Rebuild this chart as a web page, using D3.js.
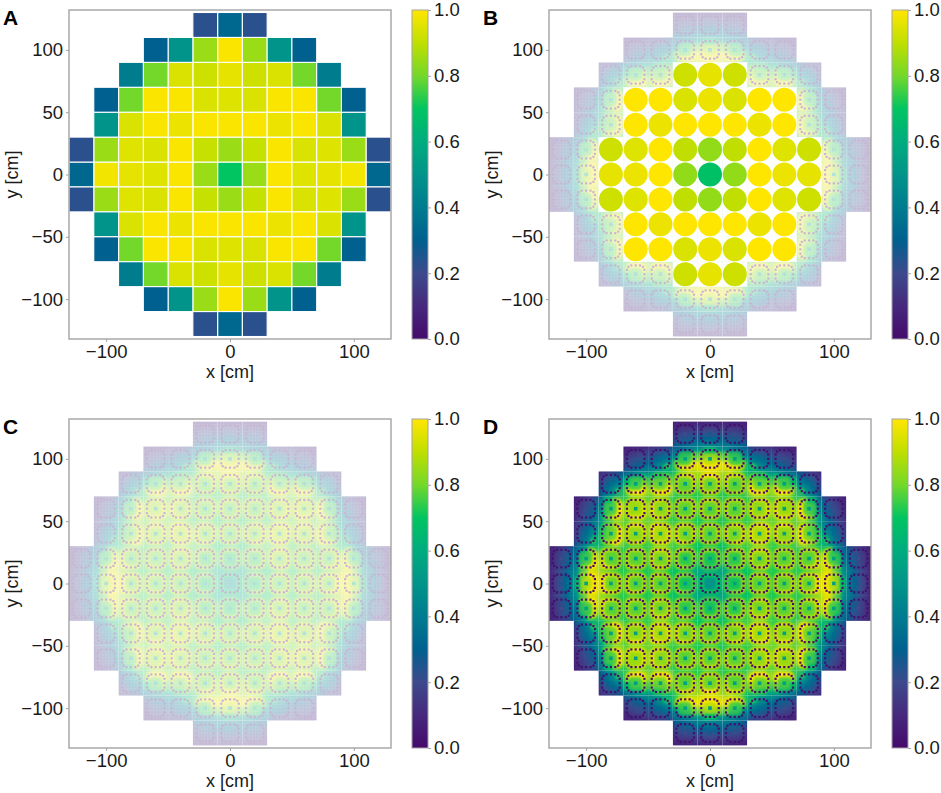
<!DOCTYPE html>
<html>
<head>
<meta charset="utf-8">
<script src="https://cdn.jsdelivr.net/npm/d3@7"></script>
<style>
    html, body { margin: 0; padding: 0; background: #fff; }
    svg { display: block; font-family: "Liberation Sans", Arial, sans-serif; }
</style>
</head>
<body>
<div id="vis"></div>
<script>
const panelLetters = ["A", "B", "C", "D"];
const xTicks = [-100, 0, 100];
const yTicks = [-100, -50, 0, 50, 100];
const colorbarTicks = [0, 0.2, 0.4, 0.6, 0.8, 1];

// viridis as it came out in the printed figure
const colorDomain = [0, 0.1, 0.2, 0.3, 0.4, 0.5, 0.6, 0.7, 0.8, 0.9, 1];
const colorRange = ["#440a6c", "#46287c", "#3c4a8c", "#00608f", "#007c8f", "#00948a",
    "#00ac7e", "#00c560", "#74d82a", "#c0df00", "#ffe600"];

// one quarter of the core, row 0 is y = 0, column 0 is x = 0, pitch 20 cm
const assemblyValues = [
    [0.70, 0.85, 0.99, 0.95, 0.96, 0.98, 0.33],
    [0.85, 0.91, 0.99, 0.94, 0.95, 0.85, 0.23],
    [0.99, 0.99, 0.97, 0.99, 0.94, 0.50, null],
    [0.95, 0.94, 0.99, 0.99, 0.80, 0.30, null],
    [0.96, 0.92, 0.94, 0.80, 0.40, null, null],
    [0.99, 0.85, 0.50, 0.30, null, null, null],
    [0.33, 0.23, null, null, null, null, null]
];

const circleValues = [
    [0.68, 0.84, 1.00, 0.97, 0.96],
    [0.84, 0.90, 1.00, 0.95, 0.92],
    [1.00, 1.00, 0.97, 1.00],
    [0.97, 0.94, 1.00, 1.00],
    [0.96, 0.92]
];

// flux on a 5 cm grid, one eighth of the core: row j holds columns i = j, j + 1, ...
const fieldRows = [
    [.50, .54, .60, .64, .66, .68, .70, .72, .74, .72, .72, .72, .74, .74, .74, .74, .76, .84, .97, .93, .70, .52, .40, .30, .20, .12],
    [.54, .60, .64, .66, .68, .70, .72, .74, .72, .72, .72, .74, .74, .74, .74, .76, .84, .97, .92, .68, .50, .39, .29, .19, .11],
    [.62, .66, .68, .70, .72, .74, .76, .74, .72, .72, .74, .74, .72, .72, .76, .82, .93, .88, .64, .46, .37, .27, .18, .11],
    [.66, .68, .70, .72, .74, .76, .74, .72, .72, .74, .72, .70, .72, .74, .80, .88, .82, .58, .43, .34, .25, .17, .10],
    [.70, .72, .76, .78, .78, .76, .72, .72, .74, .72, .70, .72, .74, .76, .80, .74, .54, .38, .31, .23, .16, .10],
    [.72, .76, .78, .78, .76, .72, .72, .72, .72, .70, .70, .72, .74, .72, .66, .48, .35, .29, .21, .15, .09],
    [.78, .80, .80, .76, .74, .76, .76, .72, .86, .84, .72, .64, .58, .48, .36, .26],
    [.82, .82, .78, .76, .78, .78, .74, .86, .82, .68, .60, .52, .42, .32, .22],
    [.84, .80, .78, .80, .80, .76, .84, .78, .66, .58, .48, .38, .28, .19],
    [.82, .78, .80, .80, .76, .80, .74, .64, .54, .42, .32, .24, .16],
    [.80, .80, .80, .76, .88, .80, .66, .54, .38, .29, .21, .13],
    [.82, .80, .76, .88, .78, .64, .50, .34, .26, .19, .12],
    [.80, .74, .84, .74, .60, .46, .30, .23, .17, .11],
    [.72, .76, .66, .54, .40, .26, .20, .14, .09],
    [.58, .50, .40, .30],
    [.44, .34, .26],
    [.28, .20],
    [.16]
];

// pin row and column of the absorber tubes in a 17 x 17 assembly
const tubeRows = [2, 2, 2, 3, 3, 5, 5, 8, 8, 11, 11, 13, 13, 14, 14, 14];
const tubeCols = [5, 8, 11, 3, 13, 2, 14, 2, 14, 2, 14, 3, 13, 5, 8, 11];

const pitch = 20;
const pinsPerAssembly = 17;
const fieldCell = 5;

const width = 941, height = 793;
const panelWidth = 322, panelHeight = 329;
const panelLeft = [69, 549, 69, 549];
const panelTop = [10, 10, 419, 419];
const spineColor = "#a3a3a3";
const textColor = "#1a1a1a";

const color = d3.scaleLinear().domain(colorDomain).range(colorRange).clamp(true);

const svg = d3.select("#vis").append("svg")
    .attr("width", width)
    .attr("height", height);
const defs = svg.append("defs");

[["soft", 2.4], ["softDisc", 1.5], ["softHalo", 0.9]].forEach(([id, sd]) => {
    defs.append("filter").attr("id", id)
        .attr("filterUnits", "userSpaceOnUse")
        .attr("x", 0).attr("y", 0).attr("width", width).attr("height", height)
        .append("feGaussianBlur").attr("stdDeviation", sd);
});

const gradient = defs.append("linearGradient").attr("id", "cbar")
    .attr("x1", 0).attr("y1", 1).attr("x2", 0).attr("y2", 0);
colorDomain.forEach((d, i) => {
    gradient.append("stop").attr("offset", d).attr("stop-color", colorRange[i]);
});

// list of all assemblies in the core with their signed column and row
const assemblies = [];
assemblyValues.forEach((row, r) => {
    row.forEach((v, c) => {
        if (v === null) return;
        d3.range(c === 0 ? 1 : 2).forEach(a => {
            d3.range(r === 0 ? 1 : 2).forEach(b => {
                assemblies.push({ c: a ? -c : c, r: b ? -r : r, value: v });
            });
        });
    });
});

const circles = [];
circleValues.forEach((row, r) => {
    row.forEach((v, c) => {
        d3.range(c === 0 ? 1 : 2).forEach(a => {
            d3.range(r === 0 ? 1 : 2).forEach(b => {
                circles.push({ c: a ? -c : c, r: b ? -r : r, value: v });
            });
        });
    });
});

function fieldAt(xCm, yCm) {
    const i = Math.floor(Math.abs(xCm) / fieldCell);
    const j = Math.floor(Math.abs(yCm) / fieldCell);
    const a = Math.min(i, j), b = Math.max(i, j);
    return fieldRows[a] ? fieldRows[a][b - a] : undefined;
}

// mean of the four 5 cm cells that meet in the middle of an assembly
function assemblyMiddle(d) {
    const cx = d.c * pitch, cy = d.r * pitch, o = fieldCell / 2;
    return d3.mean([fieldAt(cx - o, cy - o), fieldAt(cx + o, cy - o),
        fieldAt(cx - o, cy + o), fieldAt(cx + o, cy + o)]);
}

// every 5 cm cell of the core
const fieldCells = [];
d3.range(-26, 26).forEach(i => {
    d3.range(-26, 26).forEach(j => {
        const cx = (i + 0.5) * fieldCell, cy = (j + 0.5) * fieldCell;
        const v = fieldAt(cx, cy);
        if (v !== undefined) fieldCells.push({ x: i * fieldCell, y: j * fieldCell, value: v });
    });
});

const tubes = [];
assemblies.forEach(d => {
    tubeRows.forEach((pr, k) => {
        const px = d.c * pitch + (tubeCols[k] - 8) * pitch / pinsPerAssembly;
        const py = d.r * pitch + (pr - 8) * pitch / pinsPerAssembly;
        tubes.push({ x: px, y: py, value: fieldAt(px, py) });
    });
});

function drawAxes(g, x, y, letter) {
    g.append("g")
        .attr("transform", `translate(0,${panelHeight})`)
        .call(d3.axisBottom(x).tickValues(xTicks).tickSize(3).tickPadding(3))
        .call(styleAxis);
    g.append("g")
        .call(d3.axisLeft(y).tickValues(yTicks).tickSize(3).tickPadding(3))
        .call(styleAxis);

    g.append("rect")
        .attr("width", panelWidth)
        .attr("height", panelHeight)
        .attr("fill", "none")
        .attr("stroke", spineColor)
        .attr("stroke-width", 1.4);

    g.append("text")
        .attr("x", panelWidth / 2)
        .attr("y", panelHeight + 39)
        .attr("text-anchor", "middle")
        .attr("font-size", 18)
        .attr("fill", textColor)
        .text("x [cm]");

    g.append("text")
        .attr("transform", `translate(-51,${panelHeight / 2}) rotate(-90)`)
        .attr("text-anchor", "middle")
        .attr("font-size", 18)
        .attr("fill", textColor)
        .text("y [cm]");

    g.append("text")
        .attr("x", -66)
        .attr("y", 15)
        .attr("font-size", 21)
        .attr("font-weight", "bold")
        .attr("fill", "#000")
        .text(letter);

    // colorbar
    const bar = g.append("g").attr("transform", `translate(${panelWidth + 21},0)`);
    const c = d3.scaleLinear().domain([0, 1]).range([panelHeight, 0]);
    bar.append("rect")
        .attr("width", 16)
        .attr("height", panelHeight)
        .attr("fill", "url(#cbar)")
        .attr("stroke", spineColor)
        .attr("stroke-width", 1);
    bar.append("g")
        .attr("transform", "translate(16,0)")
        .call(d3.axisRight(c).tickValues(colorbarTicks).tickFormat(d3.format(".1f")).tickSize(3).tickPadding(3))
        .call(styleAxis);
}

function styleAxis(sel) {
    sel.select(".domain").remove();
    sel.selectAll(".tick line").attr("stroke", spineColor).attr("stroke-width", 1);
    sel.selectAll(".tick text").attr("font-size", 18.5).attr("fill", textColor);
    sel.attr("font-family", null).attr("font-size", 18.5);
}

function cellRect(sel, x, y) {
    sel.attr("x", d => x((d.c - 0.5) * pitch))
        .attr("y", d => y((d.r + 0.5) * pitch))
        .attr("width", x(pitch) - x(0))
        .attr("height", y(0) - y(pitch));
}

// heat field with pins, used by B, C and D
function drawField(g, x, y, clipId, opacity, lattice) {
    const clip = defs.append("clipPath").attr("id", clipId);
    clip.selectAll("rect").data(assemblies).join("rect").call(cellRect, x, y);

    const field = g.append("g").attr("clip-path", `url(#${clipId})`);
    const inner = field.append("g").attr("opacity", opacity);
    inner.selectAll("rect.base").data(assemblies).join("rect")
        .attr("class", "base")
        .attr("fill", color(0.06))
        .call(cellRect, x, y);

    const sw = x(fieldCell) - x(0), sh = y(0) - y(fieldCell);
    inner.append("g").attr("filter", "url(#soft)")
        .selectAll("rect").data(fieldCells).join("rect")
        .attr("x", d => x(d.x))
        .attr("y", d => y(d.y + fieldCell))
        .attr("width", sw + 0.4)
        .attr("height", sh + 0.4)
        .attr("fill", d => color(d.value));

    // the moderated middle of each assembly runs hotter than the gaps between them
    const discSize = x(12) - x(0);
    const hotAssemblies = assemblies.filter(d => assemblyMiddle(d) > 0.6);
    inner.append("g").attr("filter", "url(#softDisc)").attr("opacity", 0.65)
        .selectAll("rect").data(hotAssemblies).join("rect")
        .attr("x", d => x(d.c * pitch) - discSize / 2)
        .attr("y", d => y(d.r * pitch) - discSize / 2)
        .attr("width", discSize)
        .attr("height", discSize)
        .attr("rx", discSize / 3)
        .attr("fill", d => color(assemblyMiddle(d) + 0.08));

    // hot water around the tubes
    const hot = tubes.filter(d => d.value > 0.5);
    inner.append("g").attr("filter", "url(#softHalo)")
        .selectAll("rect").data(hot).join("rect")
        .attr("x", d => x(d.x) - 2.5)
        .attr("y", d => y(d.y) - 2.5)
        .attr("width", 5)
        .attr("height", 5)
        .attr("fill", d => color(d.value + 0.16));

    // instrument tube in the middle of each assembly
    inner.selectAll("rect.centre").data(assemblies).join("rect")
        .attr("class", "centre")
        .attr("x", d => x(d.c * pitch) - 1.8)
        .attr("y", d => y(d.r * pitch) - 1.8)
        .attr("width", 3.6)
        .attr("height", 3.6)
        .attr("fill", d => color(Math.min(0.55, assemblyMiddle(d))));

    inner.selectAll("rect.tube").data(tubes).join("rect")
        .attr("class", "tube")
        .attr("x", d => x(d.x) - 1.1)
        .attr("y", d => y(d.y) - 1.1)
        .attr("width", 2.2)
        .attr("height", 2.2)
        .attr("fill", color(0.02));

    if (lattice) {
        const step = pitch / pinsPerAssembly;
        const lines = d3.range(-110, 111).map(k => (k + 0.5) * step);
        const path = d3.path();
        lines.forEach(v => {
            path.moveTo(x(v), y.range()[0]); path.lineTo(x(v), y.range()[1]);
            path.moveTo(x.range()[0], y(v)); path.lineTo(x.range()[1], y(v));
        });
        field.append("path")
            .attr("d", path.toString())
            .attr("fill", "none")
            .attr("stroke", "#fff")
            .attr("stroke-width", 0.4)
            .attr("stroke-opacity", 0.35);
    }
    return field;
}

panelLetters.forEach((letter, i) => {
    const g = svg.append("g").attr("transform", `translate(${panelLeft[i]},${panelTop[i]})`);
    const x = d3.scaleLinear().domain([-130, 130]).range([0, panelWidth]);
    const y = d3.scaleLinear().domain([-132, 132]).range([panelHeight, 0]);

    if (letter === "A") {
        g.selectAll("rect.cell").data(assemblies).join("rect")
            .attr("class", "cell")
            .call(cellRect, x, y)
            .attr("fill", d => color(d.value))
            .attr("stroke", "#fff")
            .attr("stroke-width", 1.1);
    }
    if (letter === "B") {
        drawField(g, x, y, "clipB", 0.36, true);
        g.selectAll("rect.blank").data(circles).join("rect")
            .attr("class", "blank")
            .call(cellRect, x, y)
            .attr("fill", "#fff");
        g.selectAll("circle").data(circles).join("circle")
            .attr("cx", d => x(d.c * pitch))
            .attr("cy", d => y(d.r * pitch))
            .attr("r", 12)
            .attr("fill", d => color(d.value));
    }
    if (letter === "C") drawField(g, x, y, "clipC", 0.36, true);
    if (letter === "D") drawField(g, x, y, "clipD", 1, false);

    drawAxes(g, x, y, letter);
});
</script>
</body>
</html>
